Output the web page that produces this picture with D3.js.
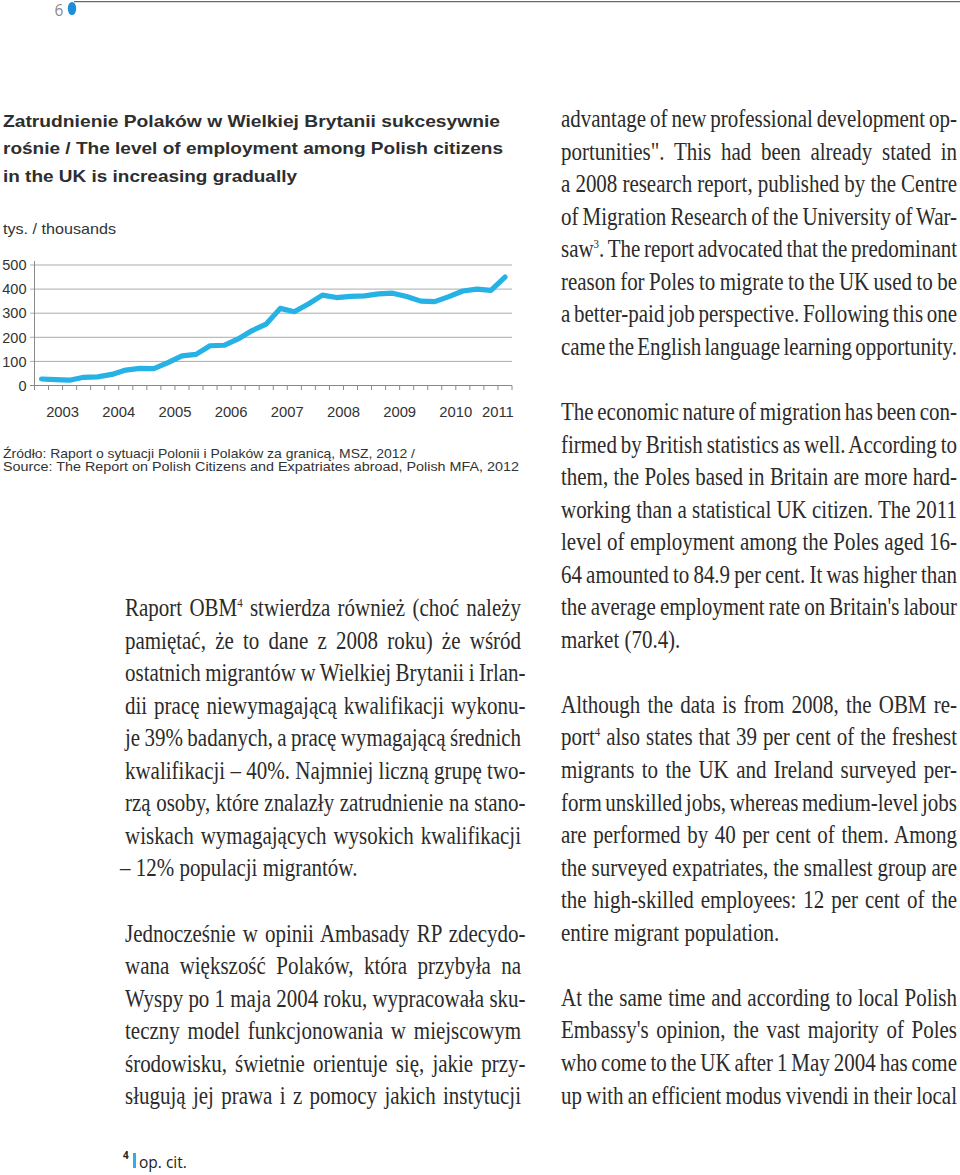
<!DOCTYPE html>
<html>
<head>
<meta charset="utf-8">
<script src="https://cdn.jsdelivr.net/npm/d3@7/dist/d3.min.js"></script>
<style>
  html, body { margin: 0; padding: 0; background: #fff; }
  svg { display: block; }
</style>
</head>
<body>
<script>
// ---------- DATA ----------
const quarters = [
  "2003 Q1","2003 Q2","2003 Q3","2003 Q4",
  "2004 Q1","2004 Q2","2004 Q3","2004 Q4",
  "2005 Q1","2005 Q2","2005 Q3","2005 Q4",
  "2006 Q1","2006 Q2","2006 Q3","2006 Q4",
  "2007 Q1","2007 Q2","2007 Q3","2007 Q4",
  "2008 Q1","2008 Q2","2008 Q3","2008 Q4",
  "2009 Q1","2009 Q2","2009 Q3","2009 Q4",
  "2010 Q1","2010 Q2","2010 Q3","2010 Q4",
  "2011 Q1","2011 Q2"
];
const employed = [
  27, 24, 22, 34,
  36, 46, 64, 71,
  70, 95, 123, 129,
  165, 167, 193, 228,
  255, 320, 306, 338,
  375, 365, 370, 372,
  380, 383, 369, 350,
  348, 369, 392, 400,
  395, 450
];
const yearLabels = ["2003","2004","2005","2006","2007","2008","2009","2010","2011"];
const yTicks = [0, 100, 200, 300, 400, 500];

const titleLines = [
  "Zatrudnienie Polaków w Wielkiej Brytanii sukcesywnie",
  "rośnie / The level of employment among Polish citizens",
  "in the UK is increasing gradually"
];
const unitLabel = "tys. / thousands";
const sourceLines = [
  "Źródło: Raport o sytuacji Polonii i Polaków za granicą, MSZ, 2012 /",
  "Source: The Report on Polish Citizens and Expatriates abroad, Polish MFA, 2012"
];

const leftLines = [
  "Raport OBM^4 stwierdza również (choć należy",
  "pamiętać, że to dane z 2008 roku) że wśród",
  "ostatnich migrantów w Wielkiej Brytanii i Irlan-",
  "dii pracę niewymagającą kwalifikacji wykonu-",
  "je 39% badanych, a pracę wymagającą średnich",
  "kwalifikacji – 40%. Najmniej liczną grupę two-",
  "rzą osoby, które znalazły zatrudnienie na stano-",
  "wiskach wymagających wysokich kwalifikacji",
  "– 12% populacji migrantów.",
  "",
  "Jednocześnie w opinii Ambasady RP zdecydo-",
  "wana większość Polaków, która przybyła na",
  "Wyspy po 1 maja 2004 roku, wypracowała sku-",
  "teczny model funkcjonowania w miejscowym",
  "środowisku, świetnie orientuje się, jakie przy-",
  "sługują jej prawa i z pomocy jakich instytucji"
];
const leftLastLines = [8];

const rightLines = [
  "advantage of new professional development op-",
  "portunities\". This had been already stated in",
  "a 2008 research report, published by the Centre",
  "of Migration Research of the University of War-",
  "saw^3. The report advocated that the predominant",
  "reason for Poles to migrate to the UK used to be",
  "a better-paid job perspective. Following this one",
  "came the English language learning opportunity.",
  "",
  "The economic nature of migration has been con-",
  "firmed by British statistics as well. According to",
  "them, the Poles based in Britain are more hard-",
  "working than a statistical UK citizen. The 2011",
  "level of employment among the Poles aged 16-",
  "64 amounted to 84.9 per cent. It was higher than",
  "the average employment rate on Britain's labour",
  "market (70.4).",
  "",
  "Although the data is from 2008, the OBM re-",
  "port^4 also states that 39 per cent of the freshest",
  "migrants to the UK and Ireland surveyed per-",
  "form unskilled jobs, whereas medium-level jobs",
  "are performed by 40 per cent of them. Among",
  "the surveyed expatriates, the smallest group are",
  "the high-skilled employees: 12 per cent of the",
  "entire migrant population.",
  "",
  "At the same time and according to local Polish",
  "Embassy's opinion, the vast majority of Poles",
  "who come to the UK after 1 May 2004 has come",
  "up with an efficient modus vivendi in their local"
];
const rightLastLines = [16, 25];

const pageNumber = "6";
const footnoteMark = "4";
const footnoteText = "op. cit.";

// ---------- DRAW ----------
const W = 960, H = 1175;
const svg = d3.select("body").append("svg").attr("width", W).attr("height", H);
svg.append("rect").attr("width", W).attr("height", H).attr("fill", "#fff");

// header
svg.append("line").attr("x1", 74).attr("x2", 960).attr("y1", 1.6).attr("y2", 1.6)
  .attr("stroke", "#6a6a6a").attr("stroke-width", 1.4);
svg.append("ellipse").attr("cx", 72).attr("cy", 8.5).attr("rx", 4.2).attr("ry", 6.6).attr("fill", "#1d8fd9");
svg.append("text").attr("x", 59).attr("y", 15.5).attr("text-anchor", "middle")
  .attr("font-family", "Open Sans, sans-serif").attr("font-size", 15.5).attr("fill", "#8a8a8a")
  .text(pageNumber);

// title
const sans = "Liberation Sans, Arial, Helvetica, sans-serif";
const titleW = [497, 500, 294];
titleLines.forEach((t, i) => {
  svg.append("text").attr("x", 3).attr("y", 126.5 + i * 27.8)
    .attr("font-family", sans).attr("font-weight", "bold").attr("font-size", 17)
    .attr("fill", "#2e2e2e")
    .attr("textLength", titleW[i]).attr("lengthAdjust", "spacingAndGlyphs")
    .text(t);
});
svg.append("text").attr("x", 3).attr("y", 233.5)
  .attr("font-family", sans).attr("font-size", 15).attr("fill", "#333")
  .attr("textLength", 113).attr("lengthAdjust", "spacingAndGlyphs")
  .text(unitLabel);

// chart
const x = d3.scaleBand().domain(quarters).range([34.5, 512]).padding(0);
const y = d3.scaleLinear().domain([0, 500]).range([385.5, 265]);
const bw = x.bandwidth();
const chart = svg.append("g");

chart.selectAll("line.grid").data(yTicks.filter(v => v > 0)).join("line")
  .attr("class", "grid")
  .attr("x1", 30).attr("x2", 512)
  .attr("y1", d => y(d)).attr("y2", d => y(d))
  .attr("stroke", "#ababab").attr("stroke-width", 1);

chart.append("line").attr("x1", 34.5).attr("x2", 34.5).attr("y1", 261).attr("y2", y(0))
  .attr("stroke", "#8a8a8a").attr("stroke-width", 1);
chart.append("line").attr("x1", 30).attr("x2", 512).attr("y1", y(0)).attr("y2", y(0))
  .attr("stroke", "#8a8a8a").attr("stroke-width", 1);

const tickXs = quarters.map(q => x(q)).concat([x.range()[1]]);
chart.selectAll("line.xtick").data(tickXs).join("line")
  .attr("class", "xtick")
  .attr("x1", d => d).attr("x2", d => d)
  .attr("y1", y(0)).attr("y2", y(0) + 4.5)
  .attr("stroke", "#8a8a8a").attr("stroke-width", 1);

chart.selectAll("text.ylab").data(yTicks).join("text")
  .attr("class", "ylab")
  .attr("x", 26.5).attr("y", d => y(d) + 5.2)
  .attr("text-anchor", "end")
  .attr("font-family", sans).attr("font-size", 14.5).attr("fill", "#333")
  .text(d => d);

chart.selectAll("text.xlab").data(yearLabels).join("text")
  .attr("class", "xlab")
  .attr("x", yr => d3.mean(quarters.filter(q => q.startsWith(yr)), q => x(q) + bw / 2))
  .attr("y", 416.5)
  .attr("text-anchor", "middle")
  .attr("font-family", sans).attr("font-size", 14.8).attr("fill", "#333")
  .text(d => d);

const pts = quarters.map((q, i) => ({ q, v: employed[i] }));
chart.append("path").datum(pts)
  .attr("d", d3.line().x(d => x(d.q) + bw / 2).y(d => y(d.v)))
  .attr("fill", "none").attr("stroke", "#27b2e6").attr("stroke-width", 5.2)
  .attr("stroke-linejoin", "round").attr("stroke-linecap", "round");

// source
const srcW = [412, 516];
sourceLines.forEach((t, i) => {
  svg.append("text").attr("x", 3).attr("y", 458 + i * 13.2)
    .attr("font-family", sans).attr("font-size", 13.6).attr("fill", "#333")
    .attr("textLength", srcW[i]).attr("lengthAdjust", "spacingAndGlyphs")
    .text(t);
});

// body text
const serif = "Liberation Serif, Times New Roman, serif";
const FS = 25, PITCH = 32.55;
const bodyG = svg.append("g").attr("font-family", serif).attr("font-size", FS).attr("fill", "#2b2b2b");

function fillText(t, str) {
  const parts = str.split(/\^(\d)/);
  parts.forEach((p, i) => {
    if (i % 2 === 1) {
      t.append("tspan").attr("font-size", 13).attr("dy", -9).text(p);
    } else if (p.length) {
      const ts = t.append("tspan").text(p);
      if (i > 0) ts.attr("dy", 9);
    }
  });
}
function naturalWidth(str) {
  const t = bodyG.append("text");
  fillText(t, str);
  const w = t.node().getComputedTextLength();
  t.remove();
  return w;
}
// horizontal condensation factor from the un-justified last lines
const samples = [
  [rightLines[16], 119], [rightLines[25], 217], [leftLines[8], 240]
];
const S = d3.mean(samples, s => s[1] / naturalWidth(s[0]));

function drawColumn(lines, lastIdx, y0, rightFn, startFn) {
  lines.forEach((str, i) => {
    if (!str) return;
    const xs = startFn(str);
    const t = bodyG.append("text")
      .attr("transform", `translate(${xs},${y0 + i * PITCH}) scale(${S},1)`);
    fillText(t, str);
    if (!lastIdx.includes(i)) {
      const target = (rightFn(str) - xs) / S;
      const nat = t.node().getComputedTextLength();
      const spaces = (str.match(/ /g) || []).length;
      if (spaces > 0) t.attr("word-spacing", (target - nat) / spaces);
    }
  });
}
drawColumn(leftLines, leftLastLines, 616,
  s => s.endsWith("-") ? 525.5 : 521,
  s => s.startsWith("–") ? 120 : 125);
drawColumn(rightLines, rightLastLines, 127,
  s => 957,
  s => 561);

// footnote
svg.append("text").attr("x", 123).attr("y", 1159)
  .attr("font-family", "Open Sans, sans-serif").attr("font-weight", "bold")
  .attr("font-size", 10).attr("fill", "#222").text(footnoteMark);
svg.append("rect").attr("x", 133).attr("y", 1153).attr("width", 3).attr("height", 15).attr("fill", "#2bb1e3");
svg.append("text").attr("x", 139).attr("y", 1168)
  .attr("font-family", "Open Sans, sans-serif").attr("font-size", 15.5).attr("fill", "#222")
  .text(footnoteText);
</script>
</body>
</html>
